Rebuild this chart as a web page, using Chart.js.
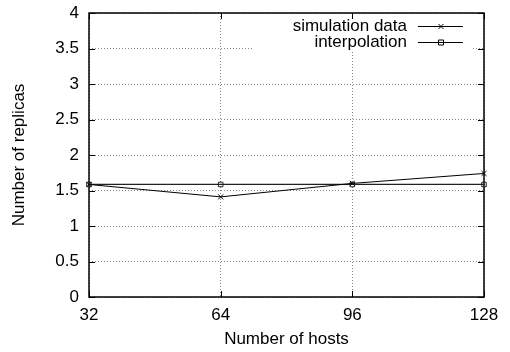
<!DOCTYPE html>
<html>
<head>
<meta charset="utf-8">
<script src="https://cdn.jsdelivr.net/npm/chart.js@4.4.0/dist/chart.umd.min.js"></script>
<style>
    body { margin: 0; background: #FFF; }
    #grafico { width: 510px; height: 352px; }
</style>
</head>
<body>
<div id="grafico"><canvas id="myChart"></canvas></div>
<script>
// dados
var hosts = [32, 64, 96, 128];
var simulacao = [1.585, 1.41, 1.60, 1.74];
var interpolacao = [1.585, 1.585, 1.585, 1.585];
var legendas = ['simulation data', 'interpolation'];
var ticksX = [32, 64, 96, 128];
var ticksY = [0, 0.5, 1, 1.5, 2, 2.5, 3, 3.5, 4];

var fonte = { family: "'Liberation Sans', Arial, sans-serif", size: 17 };

function montarPontos(valores) {
    var pontos = [];
    for (var i = 0; i < hosts.length; i++) {
        pontos.push({ x: hosts[i], y: valores[i] });
    }
    return pontos;
}

// moldura, tiques para dentro e legenda no estilo gnuplot
var moldura = {
    id: 'moldura',
    beforeDatasetsDraw: function (chart) {
        var ctx = chart.ctx;
        var area = chart.chartArea;
        var sx = chart.scales.x;
        var sy = chart.scales.y;

        // area da legenda apaga a grade
        ctx.save();
        ctx.fillStyle = '#FFF';
        ctx.fillRect(254, area.top + 1, 473 - 254, 50 - area.top);

        ctx.strokeStyle = '#000';
        ctx.lineWidth = 1.5;
        ctx.strokeRect(area.left, area.top, area.right - area.left, area.bottom - area.top);

        ctx.lineWidth = 1;
        ctx.beginPath();
        for (var i = 0; i < ticksX.length; i++) {
            var px = Math.round(sx.getPixelForValue(ticksX[i])) + 0.5;
            ctx.moveTo(px, area.bottom);
            ctx.lineTo(px, area.bottom - 6);
            ctx.moveTo(px, area.top);
            ctx.lineTo(px, area.top + 6);
        }
        for (var j = 0; j < ticksY.length; j++) {
            var py = Math.round(sy.getPixelForValue(ticksY[j])) + 0.5;
            ctx.moveTo(area.left, py);
            ctx.lineTo(area.left + 6, py);
            ctx.moveTo(area.right, py);
            ctx.lineTo(area.right - 6, py);
        }
        ctx.stroke();
        ctx.restore();
    },
    afterDatasetsDraw: function (chart) {
        var ctx = chart.ctx;
        var linhasY = [26, 42];
        ctx.save();
        ctx.font = fonte.size + 'px ' + fonte.family;
        ctx.fillStyle = '#000';
        ctx.textAlign = 'right';
        ctx.textBaseline = 'middle';
        for (var i = 0; i < legendas.length; i++) {
            var y = linhasY[i] + 0.5;
            ctx.fillText(legendas[i], 407, linhasY[i]);
            ctx.strokeStyle = '#000';
            ctx.lineWidth = 1;
            ctx.beginPath();
            ctx.moveTo(418, y);
            ctx.lineTo(463, y);
            ctx.stroke();
            ctx.beginPath();
            if (i == 0) {
                ctx.moveTo(438.5, y - 2.5);
                ctx.lineTo(443.5, y + 2.5);
                ctx.moveTo(443.5, y - 2.5);
                ctx.lineTo(438.5, y + 2.5);
            } else {
                ctx.rect(438.5, y - 2.5, 5, 5);
            }
            ctx.stroke();
        }
        ctx.restore();
    }
};

var dados = {
    datasets: [{
        label: legendas[0],
        data: montarPontos(simulacao),
        borderColor: '#000',
        backgroundColor: '#000',
        borderWidth: 1,
        pointStyle: 'crossRot',
        pointRadius: 3.5,
        pointBorderWidth: 1,
        tension: 0,
        clip: false
    }, {
        label: legendas[1],
        data: montarPontos(interpolacao),
        borderColor: '#222',
        backgroundColor: 'rgba(0,0,0,0)',
        borderWidth: 1.2,
        pointStyle: 'rect',
        pointRadius: 3.2,
        pointBorderWidth: 1,
        tension: 0,
        clip: false
    }]
};

var config = {
    type: 'line',
    data: dados,
    plugins: [moldura],
    options: {
        responsive: true,
        maintainAspectRatio: false,
        animation: false,
        layout: {
            padding: { left: 0, right: 26, top: 13, bottom: 0 }
        },
        scales: {
            x: {
                type: 'linear',
                min: 32,
                max: 128,
                afterFit: function (scale) { scale.height = 55; },
                afterBuildTicks: function (scale) {
                    scale.ticks = ticksX.map(function (v) { return { value: v }; });
                },
                ticks: {
                    color: '#000', font: fonte, padding: 8, maxRotation: 0,
                    callback: function (valor) { return String(valor); }
                },
                grid: { color: '#888', lineWidth: 1, drawTicks: false },
                border: { display: false, dash: [1, 2] },
                title: {
                    display: true,
                    text: 'Number of hosts',
                    color: '#000',
                    font: fonte,
                    padding: { top: 0, bottom: 2 }
                }
            },
            y: {
                type: 'linear',
                min: 0,
                max: 4,
                afterFit: function (scale) {
                    scale.width = 89;
                    // sem folga extra em cima, a margem vem do layout
                    scale.paddingTop = 0;
                    scale.paddingBottom = 0;
                },
                afterBuildTicks: function (scale) {
                    scale.ticks = ticksY.map(function (v) { return { value: v }; });
                },
                ticks: {
                    color: '#000', font: fonte, padding: 10,
                    callback: function (valor) { return String(valor); }
                },
                grid: { color: '#888', lineWidth: 1, drawTicks: false },
                border: { display: false, dash: [1, 2] },
                title: {
                    display: true,
                    text: 'Number of replicas',
                    color: '#000',
                    font: fonte,
                    padding: { top: 9, bottom: 0 }
                }
            }
        },
        plugins: {
            legend: { display: false },
            tooltip: { enabled: false }
        }
    }
};

var myChart = new Chart(document.getElementById('myChart'), config);
</script>
</body>
</html>
